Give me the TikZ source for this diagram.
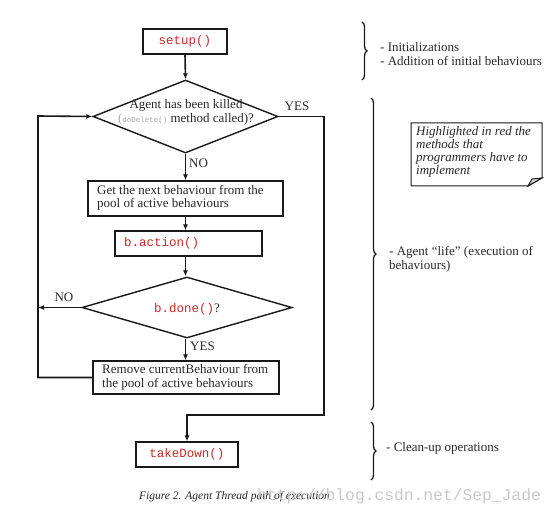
\documentclass[tikz,border=0pt]{standalone}
\usepackage{fontspec}
\setmainfont{Liberation Serif}
\setmonofont{Liberation Mono}
\usetikzlibrary{shapes.geometric,arrows.meta,decorations.pathreplacing}
\definecolor{codered}{RGB}{200,40,40}
\definecolor{inkc}{RGB}{25,25,25}
\definecolor{txtc}{RGB}{40,40,40}
\definecolor{wmark}{RGB}{200,200,200}
\newcommand{\codetxt}[1]{{\fontsize{12.5}{14}\selectfont\ttfamily\color{codered}#1}}
\begin{document}
\begin{tikzpicture}[x=1pt,y=-1pt,
  box/.style={draw=inkc, line width=1.4pt, inner sep=0pt, text=txtc},
  dia/.style={draw=inkc, diamond, line width=1.4pt, inner sep=0pt},
  txt/.style={font=\fontsize{13}{14}\selectfont, text=txtc, inner sep=0pt},
  conn/.style={draw=inkc, line width=1.6pt, -{Latex[length=6pt,width=5pt]}},
  bracestyle/.style={draw=inkc, line width=1.3pt, decorate, decoration={brace, amplitude=5pt}}]
\useasboundingbox (0,0) rectangle (552,516);

% boxes
\node[box, minimum width=84pt, minimum height=25pt] (setup) at (185,41.5) {\codetxt{setup()}};
\node[dia, minimum width=185pt, minimum height=73pt] (d1) at (185.5,116.5) {};
\node[txt, align=center] (d1t) at (186,112) {Agent has been killed\\{\color{gray!70}(\fontsize{7.5}{10}\selectfont\ttfamily doDelete()} method called)?};
\node[box, minimum width=195pt, minimum height=35pt] (get) at (185.5,198.5) {};
\node[txt, anchor=west, align=left, font=\fontsize{13}{13.5}\selectfont] (gett) at (97,198) {Get the next behaviour from the\\pool of active behaviours};
\node[box, minimum width=147pt, minimum height=25pt] (action) at (188.5,243.5) {};
\node[anchor=west, inner sep=0pt] (actiont) at (124,243.5) {\codetxt{b.action()}};
\node[dia, minimum width=210pt, minimum height=61pt] (d2) at (187,307.5) {};
\node[txt, inner sep=0pt] (d2t) at (187,309) {\codetxt{b.done()}?};
\node[box, minimum width=186pt, minimum height=33pt] (remove) at (186,377.5) {};
\node[txt, anchor=west, align=left] (removet) at (102,377.5) {Remove currentBehaviour from\\the pool of active behaviours};
\node[box, minimum width=102pt, minimum height=25pt] (takedown) at (187,454.5) {\codetxt{takeDown()}};

% connector helper points
\coordinate (L1) at (38,116);
\coordinate (R1) at (324,415);

% connectors
\draw[conn] (setup.south) -- (d1.north);
\draw[conn] (d1.south) -- (get.north);
\draw[conn] (get.south -| d1.south) -- (action.north -| d1.south);
\draw[conn] (action.south -| d1.south) -- (d2.north -| d1.south);
\draw[conn] (d2.west) -- (d2.west -| L1);
\draw[conn] (d2.south -| d1.south) -- (remove.north -| d1.south);
\draw[conn] (remove.west) -- (remove.west -| L1) -- (L1) -- (d1.west);
\draw[conn] (d1.east) -| (R1) -| (takedown.north);

% connector labels
\node[txt, anchor=west] (no1) at (189,163) {NO};
\node[txt] (yes1) at (297,106) {YES};
\node[txt] (no2) at (64,297) {NO};
\node[txt, anchor=west] (yes2) at (190,346) {YES};

% braces
\draw[bracestyle] (362,22) -- (362,80);
\draw[bracestyle] (371,98) -- (371,410);
\draw[bracestyle] (371,422) -- (371,480);

\node[txt, anchor=west] (b1a) at (380,47) {- Initializations};
\node[txt, anchor=west] (b1b) at (380,61) {- Addition of initial behaviours};
\node[txt, anchor=west, align=left] (b2) at (389,259) {- Agent ``life'' (execution of\\behaviours)};
\node[txt, anchor=west] (b3) at (386,448) {- Clean-up operations};

% note
\draw[line width=1pt, draw=inkc, fill=white] (411,123) -- (542,123) -- (542,178) -- (528,186) -- (411,186) -- cycle;
\draw[line width=1pt, draw=inkc, fill=gray!30] (528,186) -- (532,179) -- (542,178) -- cycle;
\node[txt, anchor=north west, align=left, font=\fontsize{13}{13}\selectfont\itshape] (note) at (416,126) {Highlighted in red the\\methods that\\programmers have to\\implement};

% caption and watermark
\node[anchor=west, inner sep=0pt, text=txtc, font=\fontsize{11.5}{13}\selectfont\itshape] (cap) at (139,497) {Figure 2. Agent Thread path of execution};
\node[anchor=west, inner sep=0pt, text=wmark, font=\fontsize{16.3}{18}\selectfont\ttfamily] (wm) at (257,496) {http://blog.csdn.net/Sep\_Jade};
\end{tikzpicture}
\end{document}
